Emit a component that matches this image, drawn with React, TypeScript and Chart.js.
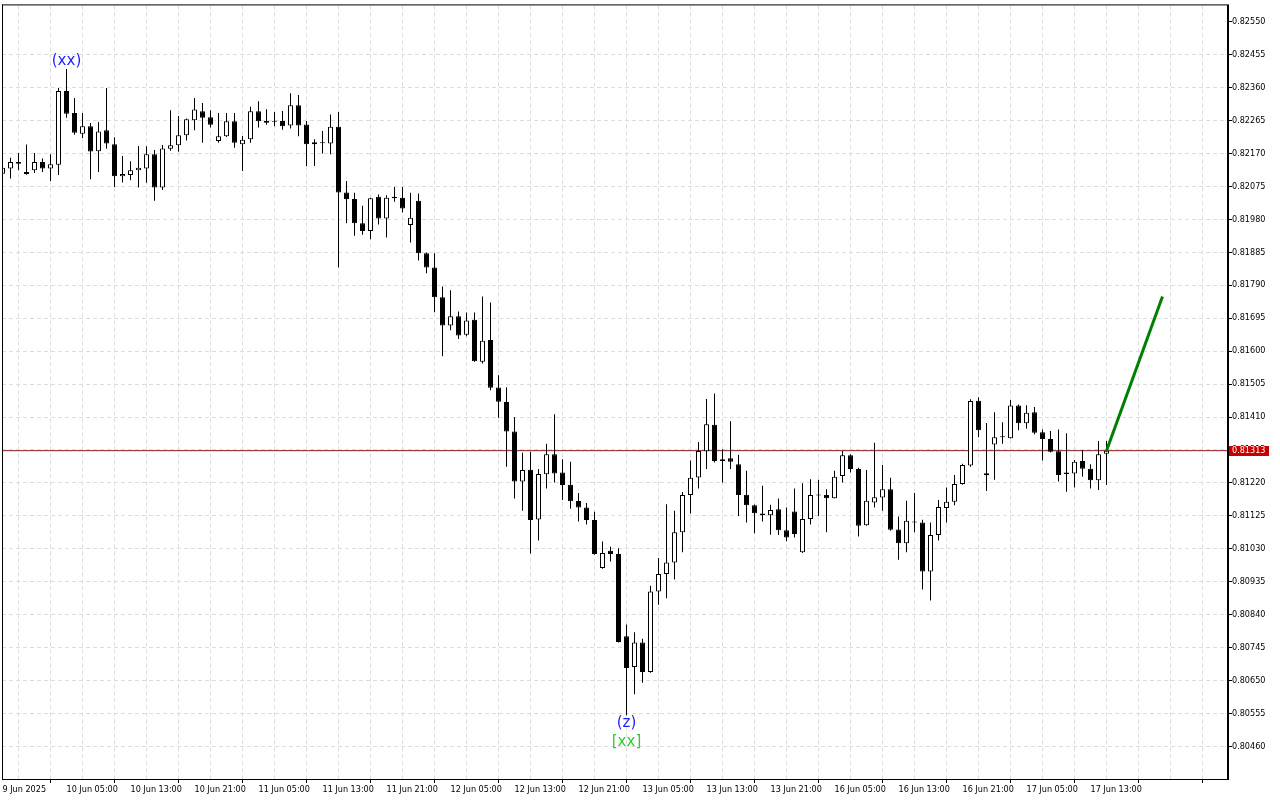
import React, { useEffect, useRef } from "react";
import { Chart, registerables } from "chart.js";

Chart.register(...registerables);

// H1 candles, index 0 = 9 Jun 2025 21:00
const openP = [
  0.82111, 0.82126, 0.82145, 0.82116, 0.82121, 0.82145, 0.82126, 0.82137, 0.82349, 0.82286,
  0.82226, 0.82248, 0.82176, 0.82236, 0.82196, 0.82104, 0.82107, 0.82121, 0.82126, 0.82167,
  0.82071, 0.82183, 0.82193, 0.82222, 0.82265, 0.82291, 0.82274, 0.82205, 0.82219, 0.82262,
  0.82196, 0.82210, 0.82291, 0.82263, 0.82263, 0.82263, 0.82250, 0.82308, 0.82253, 0.82196,
  0.82200, 0.82198, 0.82246, 0.82057, 0.82038, 0.81968, 0.81946, 0.82045, 0.81982, 0.82045,
  0.82042, 0.81963, 0.82033, 0.81882, 0.81841, 0.81755, 0.81674, 0.81700, 0.81647, 0.81690,
  0.81569, 0.81632, 0.81495, 0.81453, 0.81368, 0.81224, 0.81258, 0.81115, 0.81245, 0.81303,
  0.81250, 0.81215, 0.81168, 0.81149, 0.81113, 0.80975, 0.81025, 0.81015, 0.80778, 0.80690,
  0.80760, 0.80675, 0.80907, 0.80958, 0.80991, 0.81078, 0.81185, 0.81236, 0.81311, 0.81388,
  0.81288, 0.81291, 0.81274, 0.81186, 0.81156, 0.81132, 0.81127, 0.81144, 0.81084, 0.81138,
  0.81020, 0.81116, 0.81184, 0.81185, 0.81176, 0.81240, 0.81300, 0.81260, 0.81098, 0.81164,
  0.81178, 0.81202, 0.81086, 0.81046, 0.81109, 0.81106, 0.80965, 0.81070, 0.81148, 0.81166,
  0.81217, 0.81270, 0.81457, 0.81248, 0.81331, 0.81352, 0.81349, 0.81443, 0.81392, 0.81424,
  0.81366, 0.81347, 0.81311, 0.81250, 0.81247, 0.81283, 0.81261, 0.81228, 0.81304,
];

const highP = [
  0.82134, 0.82157, 0.82171, 0.82195, 0.82171, 0.82155, 0.82167, 0.82358, 0.82413, 0.82329,
  0.82286, 0.82257, 0.82260, 0.82358, 0.82216, 0.82162, 0.82147, 0.82191, 0.82190, 0.82179,
  0.82194, 0.82294, 0.82277, 0.82270, 0.82329, 0.82315, 0.82294, 0.82286, 0.82286, 0.82286,
  0.82220, 0.82304, 0.82320, 0.82297, 0.82289, 0.82292, 0.82343, 0.82338, 0.82263, 0.82210,
  0.82234, 0.82282, 0.82289, 0.82090, 0.82056, 0.82019, 0.82042, 0.82051, 0.82049, 0.82073,
  0.82073, 0.82056, 0.82054, 0.81884, 0.81882, 0.81786, 0.81775, 0.81714, 0.81711, 0.81711,
  0.81757, 0.81740, 0.81530, 0.81496, 0.81410, 0.81307, 0.81310, 0.81260, 0.81333, 0.81418,
  0.81288, 0.81281, 0.81191, 0.81162, 0.81137, 0.81051, 0.81036, 0.81032, 0.80812, 0.80790,
  0.80771, 0.80924, 0.81004, 0.81159, 0.81140, 0.81194, 0.81285, 0.81338, 0.81462, 0.81478,
  0.81317, 0.81398, 0.81301, 0.81255, 0.81158, 0.81212, 0.81157, 0.81175, 0.81149, 0.81204,
  0.81219, 0.81231, 0.81229, 0.81202, 0.81255, 0.81312, 0.81303, 0.81264, 0.81257, 0.81336,
  0.81272, 0.81235, 0.81123, 0.81169, 0.81191, 0.81114, 0.81106, 0.81171, 0.81207, 0.81243,
  0.81275, 0.81461, 0.81467, 0.81393, 0.81424, 0.81395, 0.81459, 0.81446, 0.81444, 0.81439,
  0.81374, 0.81370, 0.81374, 0.81363, 0.81286, 0.81314, 0.81274, 0.81341, 0.81341,
];

const lowP = [
  0.82108, 0.82097, 0.82121, 0.82108, 0.82113, 0.82116, 0.82090, 0.82107, 0.82272, 0.82223,
  0.82214, 0.82095, 0.82116, 0.82183, 0.82073, 0.82086, 0.82092, 0.82071, 0.82085, 0.82033,
  0.82064, 0.82177, 0.82174, 0.82207, 0.82236, 0.82200, 0.82244, 0.82200, 0.82217, 0.82186,
  0.82119, 0.82200, 0.82244, 0.82252, 0.82248, 0.82238, 0.82241, 0.82219, 0.82133, 0.82133,
  0.82169, 0.82167, 0.81841, 0.81968, 0.81932, 0.81935, 0.81922, 0.81965, 0.81927, 0.82030,
  0.81999, 0.81913, 0.81861, 0.81824, 0.81712, 0.81585, 0.81660, 0.81635, 0.81643, 0.81569,
  0.81564, 0.81487, 0.81408, 0.81267, 0.81175, 0.81140, 0.81017, 0.81054, 0.81204, 0.81221,
  0.81171, 0.81146, 0.81109, 0.81100, 0.81013, 0.80973, 0.80994, 0.80760, 0.80551, 0.80611,
  0.80644, 0.80673, 0.80869, 0.80888, 0.80942, 0.81020, 0.81132, 0.81204, 0.81260, 0.81279,
  0.81221, 0.81260, 0.81125, 0.81106, 0.81075, 0.81109, 0.81071, 0.81070, 0.81052, 0.81063,
  0.81018, 0.81100, 0.81125, 0.81078, 0.81175, 0.81221, 0.81250, 0.81066, 0.81097, 0.81149,
  0.81140, 0.81082, 0.80999, 0.81020, 0.81078, 0.80913, 0.80881, 0.81054, 0.81106, 0.81156,
  0.81215, 0.81267, 0.81352, 0.81197, 0.81229, 0.81333, 0.81348, 0.81372, 0.81376, 0.81360,
  0.81285, 0.81308, 0.81224, 0.81195, 0.81207, 0.81238, 0.81204, 0.81200, 0.81214,
];

const closeP = [
  0.82128, 0.82145, 0.82140, 0.82110, 0.82145, 0.82126, 0.82138, 0.82349, 0.82284, 0.82229,
  0.82248, 0.82175, 0.82233, 0.82198, 0.82104, 0.82110, 0.82121, 0.82128, 0.82167, 0.82071,
  0.82184, 0.82193, 0.82222, 0.82268, 0.82296, 0.82272, 0.82252, 0.82219, 0.82262, 0.82200,
  0.82209, 0.82291, 0.82262, 0.82258, 0.82261, 0.82248, 0.82308, 0.82250, 0.82196, 0.82202,
  0.82199, 0.82246, 0.82057, 0.82038, 0.81968, 0.81946, 0.82040, 0.81982, 0.82042, 0.82040,
  0.82011, 0.81984, 0.81882, 0.81841, 0.81755, 0.81674, 0.81700, 0.81645, 0.81688, 0.81571,
  0.81630, 0.81494, 0.81454, 0.81368, 0.81224, 0.81257, 0.81113, 0.81246, 0.81303, 0.81247,
  0.81214, 0.81167, 0.81149, 0.81113, 0.81015, 0.81018, 0.81015, 0.80762, 0.80687, 0.80760,
  0.80675, 0.80907, 0.80958, 0.80991, 0.81078, 0.81185, 0.81235, 0.81312, 0.81389, 0.81283,
  0.81283, 0.81281, 0.81185, 0.81156, 0.81133, 0.81127, 0.81142, 0.81084, 0.81063, 0.81073,
  0.81116, 0.81185, 0.81185, 0.81176, 0.81238, 0.81300, 0.81260, 0.81097, 0.81169, 0.81179,
  0.81202, 0.81085, 0.81046, 0.81111, 0.81106, 0.80965, 0.81070, 0.81151, 0.81166, 0.81217,
  0.81272, 0.81456, 0.81372, 0.81242, 0.81352, 0.81353, 0.81443, 0.81392, 0.81422, 0.81365,
  0.81347, 0.81310, 0.81243, 0.81246, 0.81281, 0.81261, 0.81228, 0.81303, 0.81313,
];

const xTickLabels = [
  "9 Jun 2025", "10 Jun 05:00", "10 Jun 13:00", "10 Jun 21:00", "11 Jun 05:00", "11 Jun 13:00",
  "11 Jun 21:00", "12 Jun 05:00", "12 Jun 13:00", "12 Jun 21:00", "13 Jun 05:00", "13 Jun 13:00",
  "13 Jun 21:00", "16 Jun 05:00", "16 Jun 13:00", "16 Jun 21:00", "17 Jun 05:00", "17 Jun 13:00",
];

const yTickValues = [
  0.8255, 0.82455, 0.8236, 0.82265, 0.8217, 0.82075, 0.8198, 0.81885, 0.8179, 0.81695, 0.816,
  0.81505, 0.8141, 0.81315, 0.8122, 0.81125, 0.8103, 0.80935, 0.8084, 0.80745, 0.8065, 0.80555,
  0.8046,
];

const currentPrice = 0.81313;
const projectionX = [138, 145];
const projectionY = [0.81313, 0.81757];

const labelTexts = ["(xx)", "(z)", "[xx]"];
const labelCandles = [8, 78, 78];
const labelColors = ["#1f1fff", "#1f1fff", "#33cc33"];

const X_MIN = -0.0625;
const X_MAX = 153.0625;
const Y_MIN = 0.80367;
const Y_MAX = 0.82596;
const FONT = "'DejaVu Sans Condensed', 'DejaVu Sans', sans-serif";

export default function App() {
  const ref = useRef<HTMLCanvasElement>(null);

  useEffect(() => {
    const canvas = ref.current;
    if (!canvas) return;

    const idx = openP.map((_, i) => i);
    const wickData = idx.map((i) => ({ x: i, y: [lowP[i], highP[i]] }));
    const bodyData = idx.map((i) => ({ x: i, y: [openP[i], closeP[i]] }));
    const bodyFill = idx.map((i) => (closeP[i] >= openP[i] ? "#ffffff" : "#000000"));

    const overlayPlugin = {
      id: "overlay",
      afterDatasetsDraw(chart: any) {
        const { ctx } = chart;
        const xs = chart.scales.x;
        const ys = chart.scales.y;
        ctx.save();
        ctx.font = `15px 'DejaVu Sans', sans-serif`;
        ctx.textAlign = "center";
        ctx.textBaseline = "middle";
        labelTexts.forEach((t, j) => {
          const k = labelCandles[j];
          const px = xs.getPixelForValue(k);
          let py: number;
          if (j === 0) py = ys.getPixelForValue(highP[k]) - 8;
          else if (j === 1) py = ys.getPixelForValue(lowP[k]) + 8;
          else py = ys.getPixelForValue(lowP[k]) + 27;
          ctx.fillStyle = labelColors[j];
          ctx.fillText(t, px, py);
        });
        ctx.restore();
      },
      afterDraw(chart: any) {
        const { ctx, chartArea } = chart;
        const ys = chart.scales.y;
        ctx.save();
        ctx.fillStyle = "#000";
        // frame
        ctx.fillRect(chartArea.left, chartArea.top - 1, chartArea.right - chartArea.left, 1);
        ctx.fillRect(chartArea.left, chartArea.top - 1, 1, chartArea.bottom - chartArea.top + 1);
        ctx.fillRect(chartArea.left, chartArea.bottom, chartArea.right - chartArea.left + 2, 1);
        ctx.fillRect(chartArea.right, chartArea.top - 1, 2, chartArea.bottom - chartArea.top + 2);
        // current price label
        const py = Math.round(ys.getPixelForValue(currentPrice));
        ctx.fillStyle = "#c80000";
        ctx.fillRect(chartArea.right + 2, py - 5, 40, 10);
        ctx.fillStyle = "#ffffff";
        ctx.font = `9px ${FONT}`;
        ctx.textAlign = "left";
        ctx.textBaseline = "middle";
        ctx.fillText(currentPrice.toFixed(5), chartArea.right + 5, py);
        ctx.restore();
      },
    };

    const chart = new Chart(canvas, {
      type: "bar",
      data: {
        datasets: [
          {
            type: "line",
            data: [
              { x: X_MIN, y: currentPrice },
              { x: X_MAX, y: currentPrice },
            ],
            borderColor: "#8a1a1a",
            borderWidth: 1,
            pointRadius: 0,
            order: 4,
          } as any,
          {
            type: "bar",
            data: wickData,
            backgroundColor: "#000000",
            borderWidth: 0,
            barThickness: 1,
            grouped: false,
            inflateAmount: 0,
            order: 3,
          } as any,
          {
            type: "bar",
            data: bodyData,
            backgroundColor: bodyFill,
            borderColor: "#000000",
            borderWidth: 1,
            borderSkipped: false,
            barThickness: 5,
            grouped: false,
            inflateAmount: 0,
            minBarLength: 1,
            order: 2,
          } as any,
          {
            type: "line",
            data: projectionX.map((x, i) => ({ x, y: projectionY[i] })),
            borderColor: "#008000",
            borderWidth: 3,
            pointRadius: 0,
            order: 1,
          } as any,
        ],
      },
      options: {
        animation: false,
        responsive: false,
        devicePixelRatio: 1,
        events: [],
        layout: { padding: { left: 2, top: 3, right: 0, bottom: 0 } },
        plugins: { legend: { display: false }, tooltip: { enabled: false } },
        scales: {
          x: {
            type: "linear",
            min: X_MIN,
            max: X_MAX,
            offset: false,
            afterBuildTicks: (s: any) => {
              const t = [];
              for (let v = 0; v <= 152; v += 4) t.push({ value: v });
              s.ticks = t;
            },
            afterFit: (s: any) => {
              s.height = 21;
            },
            ticks: {
              autoSkip: false,
              maxRotation: 0,
              minRotation: 0,
              align: "start",
              padding: 1,
              color: "#000",
              font: { family: FONT, size: 9 },
              callback: (value: any) => {
                const v = Number(value);
                return v % 8 === 0 ? xTickLabels[v / 8] ?? "" : "";
              },
            },
            grid: {
              color: (c: any) => (c.tick && c.tick.value === 0 ? "rgba(0,0,0,0)" : "#dddddd"),
              lineWidth: 1,
              tickLength: 4,
              tickColor: (c: any) => (c.tick && c.tick.value % 8 === 0 ? "#000" : "rgba(0,0,0,0)"),
              tickBorderDash: [],
            },
            border: { display: false, dash: [4, 3] },
          } as any,
          y: {
            type: "linear",
            position: "right",
            min: Y_MIN,
            max: Y_MAX,
            afterBuildTicks: (s: any) => {
              s.ticks = yTickValues.map((v) => ({ value: v }));
            },
            afterFit: (s: any) => {
              s.width = 53;
            },
            ticks: {
              padding: 0,
              color: "#000",
              font: { family: FONT, size: 9 },
              callback: (value: any) => Number(value).toFixed(5),
            },
            grid: {
              color: (c: any) => (c.tick && c.tick.value === yTickValues[0] ? "rgba(0,0,0,0)" : "#dddddd"),
              lineWidth: 1,
              tickLength: 5,
              tickColor: "#000",
              tickBorderDash: [],
            },
            border: { display: false, dash: [4, 3] },
          } as any,
        },
      },
      plugins: [overlayPlugin],
    });

    return () => chart.destroy();
  }, []);

  return (
    <canvas
      ref={ref}
      width={1280}
      height={800}
      style={{ position: "absolute", left: 0, top: 0, width: 1280, height: 800, background: "#fff" }}
    />
  );
}
